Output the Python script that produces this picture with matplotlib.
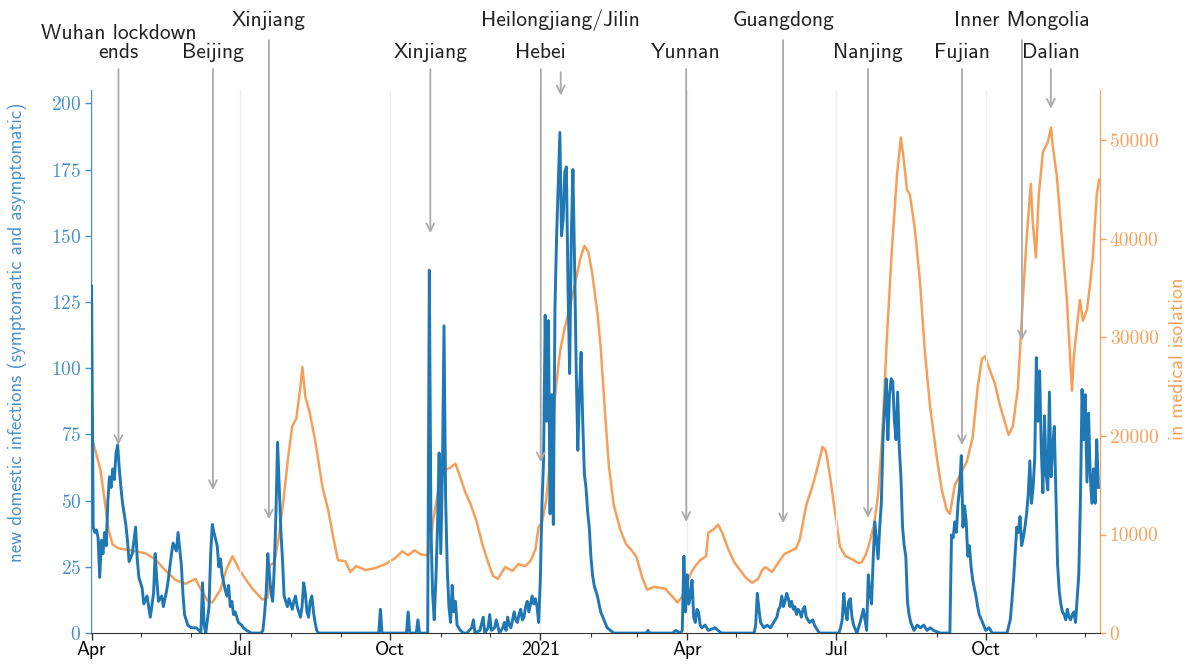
import numpy as np
import matplotlib
matplotlib.use("Agg")
import matplotlib.pyplot as plt
import matplotlib.dates as mdates
from matplotlib.ticker import FuncFormatter, MultipleLocator

# ---------------- data ----------------
start_date = "2020-04-01"

# new domestic infections: (days since start, value)
blue_days = [0,1,2,3,4,5,6,7,8,9,10,11,12,13,14,15,16,17,18,19,21,22,23,25,27,28,29,31,32,34,36,38,39,40,41,43,44,46,47,49,50,52,53,54,55,56,57,59,61,64,66,67,68,69,70,72,73,74,75,77,78,79,80,81,82,83,84,85,86,87,88,90,92,93,95,98,
             104,105,106,107,108,109,110,111,112,113,114,115,116,117,118,119,120,121,122,123,124,125,126,127,128,129,130,131,132,133,134,135,136,137,138,139,
             176,177,178,193,194,195,199,200,201,206,207,208,209,210,211,212,213,214,215,216,217,218,219,220,221,222,223,224,226,228,230,233,234,235,238,240,241,243,244,245,247,248,250,252,253,254,255,256,257,259,260,261,262,263,264,265,266,267,268,269,270,271,272,273,274,
             275,276,277,278,279,280,281,282,283,284,285,286,287,288,289,290,291,292,293,294,295,296,297,298,299,300,301,302,303,304,305,306,307,308,310,312,314,316,318,320,340,341,342,356,358,361,
             362,363,364,365,366,367,368,369,370,371,372,373,374,376,378,382,384,386,406,407,408,409,410,412,414,416,418,420,421,422,423,424,425,426,427,428,429,430,431,432,433,434,435,436,437,438,439,440,442,443,444,446,
             458,459,460,461,462,463,464,465,466,467,469,471,473,474,475,476,477,478,479,480,481,482,483,484,485,486,487,488,489,490,491,492,493,494,495,496,497,498,499,500,501,502,504,506,508,510,512,514,516,520,
             526,527,528,529,530,531,532,533,534,535,536,537,538,539,540,541,542,543,544,546,548,550,552,561,563,564,565,566,567,568,569,570,571,572,573,574,575,576,577,578,579,580,581,582,583,584,585,586,587,588,589,590,591,592,593,594,595,596,597,598,599,600,601,602,603,604,605,606,607,608,609,610,611,612,613,614,615,616,617]
blue_vals = [131,40,38,39,36,21,35,30,38,33,50,59,55,62,58,68,71,62,55,49,41,35,27,30,40,28,21,17,11,14,6,15,30,20,12,14,10,16,20,30,34,31,38,32,26,15,7,3,2,2,1,0,19,3,0,10,30,41,38,33,25,28,22,19,16,14,18,10,12,7,8,4,3,2,1,0,
             0,1,7,15,30,22,15,12,25,45,72,55,39,28,14,12,10,13,11,9,12,14,10,8,6,10,19,15,8,6,12,14,8,4,1,0,
             0,9,0,0,8,0,0,5,0,0,137,40,15,5,20,40,68,30,60,116,50,24,10,4,18,8,12,3,1,0,0,2,5,0,1,6,0,2,7,1,2,5,0,2,4,1,6,3,2,8,5,4,7,9,5,6,10,12,8,11,14,11,13,10,4,
             20,48,65,120,80,118,45,90,41,123,150,170,189,150,156,174,176,130,98,150,175,140,100,69,90,106,80,60,55,46,40,29,22,18,14,8,5,2,1,0,0,1,0,0,1,0,
             1,29,8,22,11,14,20,6,4,9,8,3,2,3,1,2,1,0,0,3,15,9,4,2,3,2,4,6,9,10,14,10,12,15,13,10,12,9,10,7,9,8,6,9,10,6,5,4,5,3,2,0,
             0,2,5,15,8,5,12,13,6,3,0,4,9,5,1,22,15,11,28,42,35,28,40,49,73,85,96,73,90,96,95,80,73,91,70,59,40,33,29,12,7,4,1,3,2,3,1,2,1,0,
             0,37,36,42,38,49,55,67,40,48,42,29,33,25,20,17,14,10,7,4,1,2,0,0,5,12,20,30,40,38,44,33,36,40,45,52,65,49,55,66,104,80,99,70,53,82,60,54,91,59,70,78,52,26,16,11,8,7,5,9,6,5,7,8,4,13,22,50,92,73,90,57,83,60,49,62,49,73,55]

# people in medical isolation: (days since start, value)
orange_days = [0,2.4,5.5,8,10.4,12.9,16.5,23.9,33,39,45,51.4,57.6,63.7,66.8,71,74,79,82.7,86.4,90,94.3,98.6,104.7,107.8,109,112,114.5,117.6,120.6,123,125.5,128,129.2,131,133.5,137,141.5,145,148,151,155.5,
               158.6,162,168,174,180,186,190.5,194,198,201.5,205,207,209.4,212.5,216,220,223,226,229,232,236,239.5,243,246,249,253.5,258,261.5,265.8,269,272,274,276,278.6,281,284,287,290,293,296.4,299.5,302,304.4,306.8,310,312,314.8,317,320,324,327.6,331,334,337.5,340.5,345,351.5,356,359,362,364.4,367,370,373,376.6,378,381,384,386.4,390,393.8,397.4,401,404.8,408.5,411,413,417,420.7,424.4,428,431.7,434,438,441,443,446,448,450,452.5,456,458.6,462,466,470,472,474.6,477,479.5,482,484.4,487.5,490.5,493.6,496,497.7,499.7,501.5,504.6,507.7,510.7,513.8,518,521,524,526,529,532,536.4,540,543,545.6,547.5,550.5,553.6,556.7,559.7,562,564.6,567.7,570.7,573,575.6,576.8,578.7,580.5,583,586,588,589,591.6,594.6,597.7,600.8,602,603.8,605.7,607.5,610,611.8,613.6,616,617.5]
orange_vals = [19900,18500,16500,13500,10500,9000,8600,8400,8100,7500,6400,5400,5000,5500,4500,3300,3100,4400,6500,7800,6600,5500,4500,3400,3600,6800,7200,9500,13500,18000,21000,21800,25000,27000,24000,22500,19600,14800,12500,9800,7400,7300,
               6200,6800,6400,6600,7000,7600,8300,7900,8400,8000,7900,8200,11500,14500,16500,16800,17200,15800,14300,13200,11300,9000,7200,5800,5500,6700,6300,7000,6800,7300,8500,10800,11200,13500,17500,24000,28500,31000,33000,35500,38000,39300,38700,36500,32500,29000,22000,17000,13000,10500,9000,8400,7700,5600,4400,4700,4500,3700,3100,3700,4800,6000,6800,7400,7800,10200,10500,11000,10200,8600,7200,6400,5600,5100,5500,6400,6700,6200,7100,8000,8300,8600,9500,13000,14500,15600,17600,18900,18500,16000,11800,8800,7800,7500,7100,7200,8000,9300,11000,14000,19600,30300,39000,46500,50300,48100,45000,44500,40900,35600,28500,23100,17800,14600,12500,12100,15000,16000,17400,19900,24900,27800,28100,26700,25300,23100,21400,20100,21000,24900,33800,39900,45600,41700,38100,44500,48800,49800,51300,49500,46300,40200,33800,24600,28100,31000,33800,31700,32800,35200,38100,44500,46000]

# annotations
event_labels = ["Wuhan lockdown", "Beijing", "Xinjiang", "Xinjiang", "Hebei", "Heilongjiang/Jilin",
                "Yunnan", "Guangdong", "Nanjing", "Fujian", "Inner Mongolia", "Dalian"]
event_days = [16.5, 74.4, 108.7, 207.6, 275.3, 287.5, 364.4, 423.8, 475.8, 533.4, 570.2, 587.9]
event_tips = [71, 54, 43, 151, 64.5, 203, 42, 41.5, 43.5, 71, 110.5, 198]
event_row = [0, 1, 0, 1, 1, 0, 1, 0, 1, 1, 0, 1]

left_label = "new domestic infections (symptomatic and asymptomatic)"
right_label = "in medical isolation"

# ---------------- styling ----------------
BLUE = "#1f77b4"
BLUE_TXT = "#4a90c8"
ORANGE = "#f5a05a"
ORANGE_TXT = "#f5a35c"
SANS = "cmss10"
SERIF = "cmr10"

plt.rcParams['axes.formatter.use_mathtext'] = True

fig = plt.figure(figsize=(11.95, 6.65), dpi=100)
ax = fig.add_axes([0.0762, 0.048, 0.8443, 0.8165])
ax2 = ax.twinx()

t0 = mdates.date2num(np.datetime64(start_date))
bx = t0 + np.array(blue_days, dtype=float)
ox = t0 + np.array(orange_days, dtype=float)

ax2.plot(ox, orange_vals, color=ORANGE, lw=1.8, zorder=2)
ax.plot(bx, blue_vals, color=BLUE, lw=2.1, zorder=3)
ax.set_zorder(ax2.get_zorder() + 1)
ax.patch.set_visible(False)

ax.set_xlim(t0 - 0.3, t0 + 618)
ax.set_ylim(0, 205)
ax2.set_ylim(0, 55100)

ax.xaxis.set_major_locator(mdates.MonthLocator(bymonth=[1, 4, 7, 10]))
ax.xaxis.set_minor_locator(mdates.MonthLocator())
def fmt(x, pos):
    d = mdates.num2date(x)
    return str(d.year) if d.month == 1 else d.strftime("%b")
ax.xaxis.set_major_formatter(FuncFormatter(fmt))
ax.grid(axis='x', which='major', color='#eeeeee', lw=1.0, zorder=0)

ax.yaxis.set_major_locator(MultipleLocator(25))
ax2.yaxis.set_major_locator(MultipleLocator(10000))
ax2.yaxis.set_major_formatter(FuncFormatter(lambda v, p: f"{int(v)}"))

for a in (ax, ax2):
    a.spines['top'].set_visible(False)
ax.spines['right'].set_visible(False)
ax2.spines['left'].set_visible(False)
ax2.spines['bottom'].set_visible(False)
ax.spines['left'].set_color(BLUE_TXT)
ax2.spines['right'].set_color(ORANGE)
ax.spines['bottom'].set_color('#333333')

ax.tick_params(axis='x', which='major', length=5, width=1, color='#333333', labelsize=14, pad=1)
ax.tick_params(axis='x', which='minor', length=3, width=0.8, color='#333333')
ax.tick_params(axis='y', length=4, width=1, color=BLUE_TXT, labelcolor=BLUE_TXT, labelsize=14, pad=3)
ax2.tick_params(axis='y', length=4, width=1, color=ORANGE, labelcolor=ORANGE_TXT, labelsize=14, pad=3)
for lab in ax.get_xticklabels():
    lab.set_fontfamily(SANS)
for lab in ax.get_yticklabels() + ax2.get_yticklabels():
    lab.set_fontfamily(SERIF)

ax.set_ylabel(left_label, color=BLUE_TXT, fontsize=13.6, family=SANS)
ax.yaxis.set_label_coords(-0.063, 0.554)
ax2.set_ylabel(right_label, color=ORANGE_TXT, fontsize=14.5, family=SANS)
ax2.yaxis.set_label_coords(1.068, 0.506)

trans = ax.get_xaxis_transform()
row_text_y = [1.129, 1.070]
row_arrow_y = [1.092, 1.039]
TXT_SIZE = 15.5
for i, (lab, d, tip, row) in enumerate(zip(event_labels, event_days, event_tips, event_row)):
    x = t0 + d
    ty = row_text_y[row]
    ay = row_arrow_y[row]
    if i == 0:
        ty = 1.1035
        ay = 1.039
        ax.text(x, 1.070, "ends", transform=trans, ha='center', va='center',
                fontsize=TXT_SIZE, family=SANS, color='#222222', clip_on=False)
    if lab == "Heilongjiang/Jilin":
        ay = 1.033
    ax.text(x, ty, lab, transform=trans, ha='center', va='center',
            fontsize=TXT_SIZE, family=SANS, color='#222222', clip_on=False)
    ax.annotate("", xy=(x, tip), xycoords='data', xytext=(x, ay), textcoords=trans,
                arrowprops=dict(arrowstyle='->', color='#aaaaaa', lw=1.3,
                                shrinkA=0, shrinkB=0, mutation_scale=14),
                annotation_clip=False, zorder=5)

fig.savefig("out.png", dpi=100)
